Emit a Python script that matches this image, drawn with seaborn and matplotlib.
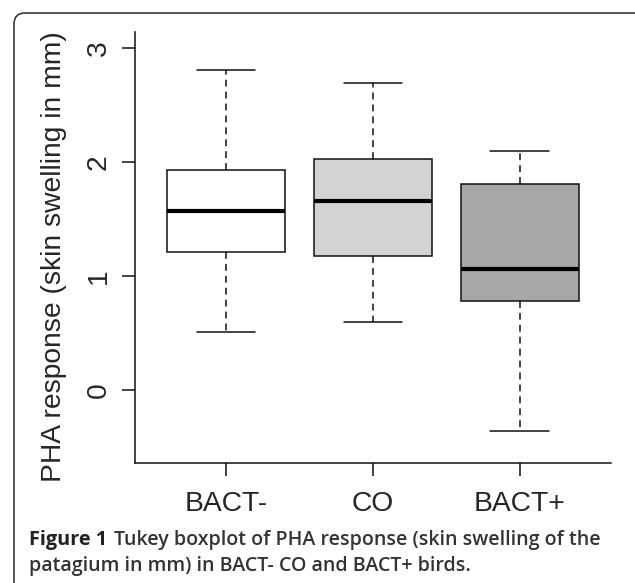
import matplotlib
matplotlib.use("Agg")
import matplotlib.pyplot as plt
from matplotlib.patches import FancyBboxPatch
import seaborn as sns
import pandas as pd

# five-number summaries (min, Q1, median, Q3, max)
groups = ["BACT-", "CO", "BACT+"]
bact_minus = [0.51, 1.21, 1.57, 1.93, 2.81]
co = [0.60, 1.18, 1.66, 2.03, 2.69]
bact_plus = [-0.36, 0.785, 1.06, 1.81, 2.10]
colors = ["#ffffff", "#d3d3d3", "#a7a7a7"]

caption_head = "Figure 1"
caption_1 = "Tukey boxplot of PHA response (skin swelling of the"
caption_2 = "patagium in mm) in BACT- CO and BACT+ birds."

df = pd.DataFrame({
    "group": [g for g, v in zip(groups, [bact_minus, co, bact_plus]) for _ in v],
    "value": bact_minus + co + bact_plus,
})

sns.set_style("white")
plt.rcParams["font.family"] = ["Liberation Sans", "DejaVu Sans"]

fig = plt.figure(figsize=(6.35, 5.83), dpi=100)
ax = fig.add_axes([0.2126, 0.2058, 0.962 - 0.2126, 0.945 - 0.2058])

sns.boxplot(data=df, x="group", y="value", hue="group", order=groups,
            palette=colors, legend=False, width=0.8, whis=(0, 100),
            linecolor="#111111", linewidth=1.1, ax=ax,
            whiskerprops={"linestyle": (0, (4.5, 3.3))},
            medianprops={"linewidth": 3.0, "color": "black"})

ax.set_xlim(0.38 - 1, 3.62 - 1)
ax.set_ylim(-0.64, 3.14)
ax.set_yticks([0, 1, 2, 3])
ax.set_yticklabels(["0", "1", "2", "3"], rotation=90, va="center")
ax.set_xlabel("")
ax.set_ylabel("PHA response (skin swelling in mm)", fontsize=20.3)
ax.yaxis.set_label_coords(-0.143, 0.478)
ax.tick_params(axis="both", labelsize=20.3, length=9.5, width=1.1, color="#111111",
               left=True, bottom=True, direction="out")
ax.tick_params(axis="x", pad=11)
ax.tick_params(axis="y", pad=7)
for s in ["top", "right"]:
    ax.spines[s].set_visible(False)
for s in ["left", "bottom"]:
    ax.spines[s].set_color("#111111")
    ax.spines[s].set_linewidth(1.1)

# rounded frame around the figure (inch units)
frame = FancyBboxPatch((0.14, -0.5), 6.32, 5.70 + 0.5,
                       boxstyle="round,pad=0,rounding_size=0.11",
                       transform=fig.dpi_scale_trans, fill=False,
                       edgecolor="#2a2a2a", linewidth=1.1, clip_on=False)
fig.patches.append(frame)

cap_font = ["Open Sans", "DejaVu Sans"]
cap_size = 14.1
y1 = 1 - 545 / 583
y2 = 1 - 571 / 583
fig.text(29 / 635, y1, caption_head, fontsize=cap_size + 0.2, fontweight="bold",
         family=cap_font, color="#222222", va="baseline")
fig.text(114 / 635, y1, caption_1, fontsize=cap_size, fontweight="semibold",
         family=cap_font, color="#333333", va="baseline")
fig.text(29 / 635, y2, caption_2, fontsize=cap_size, fontweight="semibold",
         family=cap_font, color="#333333", va="baseline")

fig.savefig("out.png", dpi=100)
